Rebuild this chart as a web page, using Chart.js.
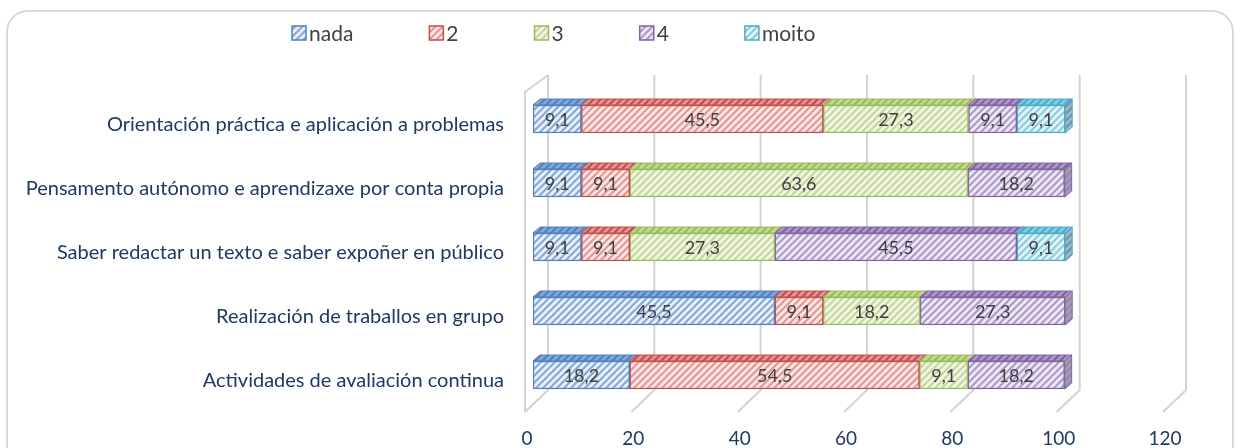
<!DOCTYPE html>
<html>
<head>
<meta charset="utf-8">
<script src="https://cdn.jsdelivr.net/npm/chart.js@4/dist/chart.umd.min.js"></script>
<style>
  html, body { margin: 0; padding: 0; background: #fff; overflow: hidden; }
  #frame { position: absolute; left: 6px; top: 10px; width: 1228px; height: 470px;
           border: 2px solid #d9d9d9; border-radius: 22px; box-sizing: border-box; }
  #chart { position: absolute; left: 0; top: 0; }
</style>
</head>
<body>
<div id="frame"></div>
<canvas id="chart" width="1240" height="448"></canvas>
<script>
// categories, top to bottom as in the picture
const categories = [
  'Orientación práctica e aplicación a problemas',
  'Pensamento autónomo e aprendizaxe por conta propia',
  'Saber redactar un texto e saber expoñer en público',
  'Realización de traballos en grupo',
  'Actividades de avaliación continua'
]
const seriesNames = ['nada', '2', '3', '4', 'moito']

const nada  = [9.1, 9.1, 9.1, 45.5, 18.2]
const dous  = [45.5, 9.1, 9.1, 9.1, 54.5]
const tres  = [27.3, 63.6, 27.3, 18.2, 9.1]
const catro = [9.1, 18.2, 45.5, 27.3, 18.2]
const moito = [9.1, null, 9.1, null, null]

const xTicks = { min: 0, max: 120, step: 20 }

// border, light fill, stripe
const palette = [
  ['#4F81BD', '#EAF0F8', '#85A7D6'],
  ['#C0504D', '#FAE6E6', '#E39794'],
  ['#9BBB59', '#F1F6E4', '#C2D79A'],
  ['#8064A2', '#EEE8F4', '#AE98CA'],
  ['#4BACC6', '#E4F3F8', '#86CDDF']
]

const FONT = 'Lato, "Open Sans", sans-serif'
const NAVY = '#1F3864'

let hatch = function(bg, fg, size) {
  const c = document.createElement('canvas')
  c.width = c.height = size
  const g = c.getContext('2d')
  g.fillStyle = bg
  g.fillRect(0, 0, size, size)
  g.strokeStyle = fg
  g.lineWidth = 2
  g.beginPath()
  g.moveTo(0, size); g.lineTo(size, 0)
  g.moveTo(-size / 2, size / 2); g.lineTo(size / 2, -size / 2)
  g.moveTo(size / 2, size * 1.5); g.lineTo(size * 1.5, size / 2)
  g.stroke()
  return g.createPattern(c, 'repeat')
}

const fronts = palette.map(p => hatch(p[1], p[2], 7))
const tops = palette.map(p => hatch(p[2], p[0], 7))
const ends = palette.map(p => hatch('#8a929b', p[2], 7))

const DX = 7, DY = 6

// back grid lines, floor diagonals and the left wall
const grid3d = {
  id: 'grid3d',
  beforeDatasetsDraw(chart) {
    const {ctx, chartArea: a, scales: {x}} = chart
    ctx.save()
    ctx.strokeStyle = '#d3d3d3'
    ctx.lineWidth = 2
    ctx.beginPath()
    for (let v = xTicks.min; v <= xTicks.max; v += xTicks.step) {
      const px = x.getPixelForValue(v)
      ctx.moveTo(px + 15, a.top - 12)
      ctx.lineTo(px + 15, a.bottom - 17)
      ctx.lineTo(px - 8, a.bottom + 5)
    }
    const p0 = x.getPixelForValue(0)
    ctx.moveTo(p0 - 8, a.bottom + 5)
    ctx.lineTo(p0 - 8, a.top + 5)
    ctx.lineTo(p0 + 15, a.top - 12)
    ctx.stroke()
    ctx.restore()
  }
}

// top faces, end faces and value labels
const bars3d = {
  id: 'bars3d',
  afterDatasetsDraw(chart) {
    const ctx = chart.ctx
    ctx.save()
    ctx.lineWidth = 1
    const lastEnd = {}
    chart.data.datasets.forEach((ds, i) => {
      chart.getDatasetMeta(i).data.forEach((bar, j) => {
        if (ds.data[j] == null) return
        const top = bar.y - bar.height / 2
        ctx.beginPath()
        ctx.moveTo(bar.base, top)
        ctx.lineTo(bar.base + DX, top - DY)
        ctx.lineTo(bar.x + DX, top - DY)
        ctx.lineTo(bar.x, top)
        ctx.closePath()
        ctx.fillStyle = tops[i]
        ctx.fill()
        ctx.strokeStyle = palette[i][0]
        ctx.stroke()
        if (!lastEnd[j] || bar.x >= lastEnd[j].bar.x) lastEnd[j] = {bar, i}
      })
    })
    Object.values(lastEnd).forEach(({bar, i}) => {
      const top = bar.y - bar.height / 2, bottom = bar.y + bar.height / 2
      ctx.beginPath()
      ctx.moveTo(bar.x, top)
      ctx.lineTo(bar.x + DX, top - DY)
      ctx.lineTo(bar.x + DX, bottom - DY)
      ctx.lineTo(bar.x, bottom)
      ctx.closePath()
      ctx.fillStyle = ends[i]
      ctx.fill()
      ctx.strokeStyle = palette[i][0]
      ctx.stroke()
    })
    ctx.font = '18px ' + FONT
    ctx.fillStyle = '#404040'
    ctx.textAlign = 'center'
    ctx.textBaseline = 'middle'
    chart.data.datasets.forEach((ds, i) => {
      chart.getDatasetMeta(i).data.forEach((bar, j) => {
        const v = ds.data[j]
        if (v == null) return
        ctx.fillText(v.toFixed(1).replace('.', ','), (bar.x + bar.base) / 2, bar.y + 1)
      })
    })
    ctx.restore()
  }
}

// legend row across the top
const legendRow = {
  id: 'legendRow',
  afterDraw(chart) {
    const ctx = chart.ctx
    ctx.save()
    ctx.font = '21px ' + FONT
    ctx.textBaseline = 'middle'
    let x = 292
    const y = 33
    chart.data.datasets.forEach((ds, i) => {
      ctx.fillStyle = ds.backgroundColor
      ctx.fillRect(x, y - 7, 14, 14)
      ctx.strokeStyle = ds.borderColor
      ctx.lineWidth = 1.5
      ctx.strokeRect(x, y - 7, 14, 14)
      ctx.fillStyle = '#404040'
      ctx.fillText(ds.label, x + 17, y + 1)
      x += 17 + ctx.measureText(ds.label).width + 76
    })
    ctx.restore()
  }
}

const values = [nada, dous, tres, catro, moito]

let draw = function() {
  new Chart(document.getElementById('chart'), {
    type: 'bar',
    data: {
      labels: categories,
      datasets: seriesNames.map((name, i) => ({
        label: name,
        data: values[i],
        backgroundColor: fronts[i],
        borderColor: palette[i][0],
        borderWidth: 1.5,
        borderSkipped: false,
        barThickness: 28
      }))
    },
    options: {
      indexAxis: 'y',
      responsive: false,
      animation: false,
      layout: { padding: { top: 87, right: 69, bottom: 0, left: 0 } },
      plugins: { legend: { display: false }, tooltip: { enabled: false } },
      scales: {
        x: {
          stacked: true,
          min: xTicks.min,
          max: xTicks.max,
          ticks: { stepSize: xTicks.step, padding: 20, labelOffset: -6, color: NAVY, font: { family: FONT, size: 19 } },
          grid: { display: false, drawTicks: false },
          border: { display: false },
          afterFit: s => { s.height = 41 }
        },
        y: {
          stacked: true,
          ticks: { padding: 29, labelOffset: 6, color: NAVY, font: { family: FONT, size: 20 } },
          grid: { display: false, drawTicks: false },
          border: { display: false },
          afterFit: s => { s.width = 533 }
        }
      }
    },
    plugins: [grid3d, bars3d, legendRow]
  })
}

document.fonts.load('17px Lato').then(draw, draw)
</script>
</body>
</html>
